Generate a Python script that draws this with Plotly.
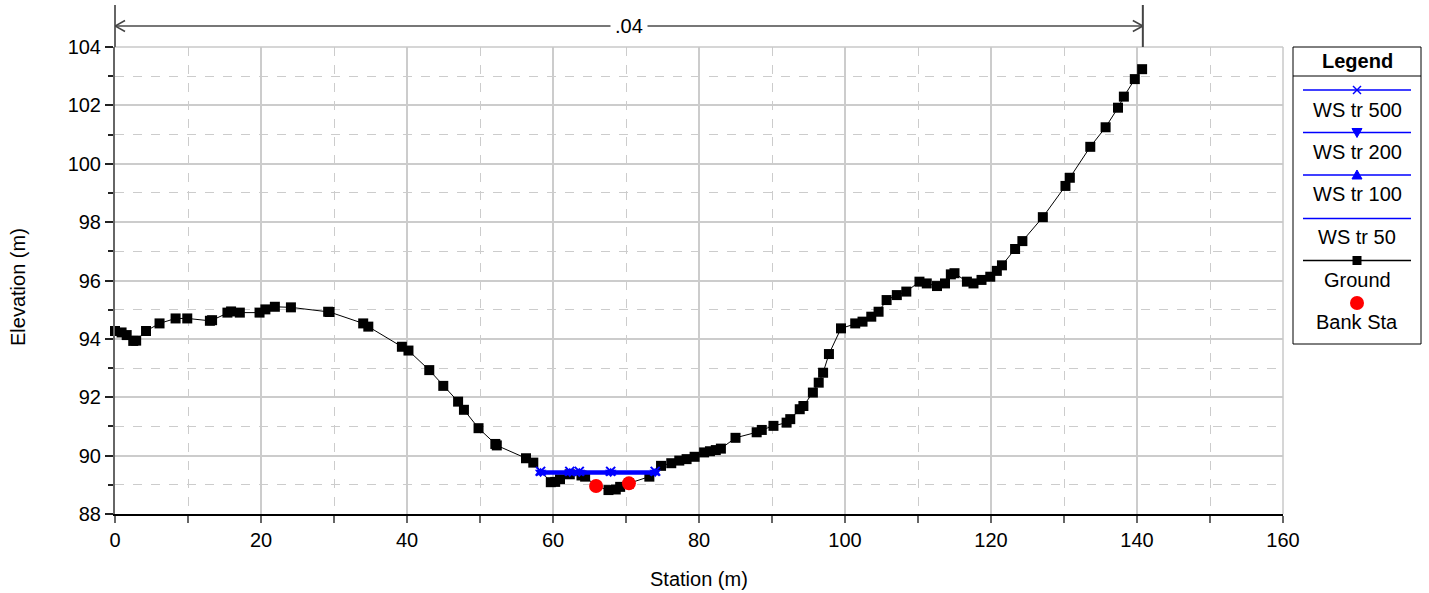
import plotly.graph_objects as go

# ---------------- data ----------------
ground_sta = [0.0, 0.9, 1.6, 2.5, 2.9, 4.25, 6.1, 8.3, 9.9, 13.0, 13.3, 15.4, 15.9, 17.1,
              19.8, 20.6, 21.9, 24.1, 29.2, 29.4, 34.0, 34.7, 39.3, 40.2, 43.05, 44.97,
              47.0, 47.8, 49.8, 52.1, 52.3, 56.3, 57.3, 59.7, 60.3, 60.96, 62.3, 63.9,
              64.4, 65.9, 67.6, 68.6, 69.2, 70.4, 73.2, 74.8, 76.2, 77.3, 78.3, 79.4,
              80.7, 81.5, 82.3, 83.0, 85.0, 87.9, 88.6, 90.2, 92.0, 92.5, 93.8, 94.3,
              95.6, 96.4, 97.0, 97.8, 99.45, 101.4, 102.4, 103.6, 104.6, 105.7, 107.1,
              108.4, 110.2, 111.2, 112.6, 113.7, 114.5, 115.0, 116.7, 117.6, 118.7,
              119.9, 120.8, 121.5, 123.3, 124.3, 127.1, 130.2, 130.8, 133.6, 135.7,
              137.4, 138.2, 139.7, 140.7]
ground_elev = [94.27, 94.22, 94.13, 93.93, 93.94, 94.27, 94.53, 94.70, 94.70, 94.62, 94.64,
               94.90, 94.94, 94.90, 94.90, 95.01, 95.10, 95.08, 94.93, 94.92, 94.53, 94.42,
               93.73, 93.60, 92.93, 92.39, 91.85, 91.57, 90.94, 90.40, 90.35, 89.91, 89.76,
               89.09, 89.10, 89.19, 89.36, 89.32, 89.28, 88.96, 88.82, 88.84, 88.93, 89.05,
               89.28, 89.65, 89.74, 89.83, 89.88, 89.96, 90.11, 90.15, 90.19, 90.24, 90.61,
               90.80, 90.88, 91.02, 91.13, 91.25, 91.59, 91.70, 92.16, 92.50, 92.84, 93.48,
               94.36, 94.53, 94.59, 94.76, 94.93, 95.33, 95.50, 95.62, 95.96, 95.90, 95.81,
               95.90, 96.21, 96.25, 95.96, 95.90, 96.02, 96.13, 96.33, 96.52, 97.08, 97.35,
               98.17, 99.24, 99.52, 100.58, 101.25, 101.92, 102.30, 102.90, 103.24]

ws_sta = [58.3, 62.3, 63.6, 67.9, 74.0]
ws500 = [89.46] * 5
ws200 = [89.43] * 5
ws100 = [89.41] * 5
ws50 = [89.38] * 5

bank_sta = [65.9, 70.4]
bank_elev = [88.96, 89.05]

n_label = ".04"
n_start, n_end = 0.0, 140.8

legend_labels = ["WS tr 500", "WS tr 200", "WS tr 100", "WS tr 50", "Ground", "Bank Sta"]
x_title = "Station (m)"
y_title = "Elevation (m)"

# ---------------- layout helpers ----------------
W, H = 1429, 593
L, R, T, B = 115, 1283, 47, 514
FONT = "Liberation Sans, Arial, sans-serif"
BLUE = "#0000FF"


def px(xp):
    return (xp - L) / (R - L)


def py(yp):
    return (B - yp) / (B - T)


def label(x, y, text, xref="paper", **kw):
    d = dict(x=x, y=y, xref=xref, yref="paper", text=text, showarrow=False,
             xanchor="center", yanchor="middle",
             font=dict(family=FONT, size=20, color="black"))
    d.update(kw)
    return d


fig = go.Figure()

fig.add_trace(go.Scatter(x=ground_sta, y=ground_elev, mode="lines+markers",
                         line=dict(color="black", width=1),
                         marker=dict(symbol="square", size=10, color="black"),
                         name="Ground", showlegend=False, cliponaxis=False))
fig.add_trace(go.Scatter(x=ws_sta, y=ws50, mode="lines", line=dict(color=BLUE, width=2.2),
                         name="WS tr 50", showlegend=False))
fig.add_trace(go.Scatter(x=ws_sta, y=ws100, mode="lines+markers", line=dict(color=BLUE, width=2.2),
                         marker=dict(symbol="triangle-up", size=10, color=BLUE),
                         name="WS tr 100", showlegend=False))
fig.add_trace(go.Scatter(x=ws_sta, y=ws200, mode="lines+markers", line=dict(color=BLUE, width=2.2),
                         marker=dict(symbol="triangle-down", size=10, color=BLUE),
                         name="WS tr 200", showlegend=False))
fig.add_trace(go.Scatter(x=ws_sta, y=ws500, mode="lines+markers", line=dict(color=BLUE, width=2.2),
                         marker=dict(symbol="x-thin", size=9, color=BLUE,
                                     line=dict(color=BLUE, width=2)),
                         name="WS tr 500", showlegend=False))
fig.add_trace(go.Scatter(x=bank_sta, y=bank_elev, mode="markers",
                         marker=dict(symbol="circle", size=14, color="#FF0000"),
                         name="Bank Sta", showlegend=False))

shapes = []
annotations = []

# plot border (top / right)
shapes.append(dict(type="line", xref="paper", yref="paper", x0=0, x1=1, y0=1, y1=1,
                   line=dict(color="#c8c8c8", width=1.5)))
shapes.append(dict(type="line", xref="paper", yref="paper", x0=1, x1=1, y0=0, y1=1,
                   line=dict(color="#c8c8c8", width=1.5)))
# left axis extension above plot
shapes.append(dict(type="line", xref="paper", yref="paper", x0=0, x1=0, y0=1, y1=py(5),
                   line=dict(color="#666666", width=2)))

# Manning's n dimension line
ya = py(26)
shapes.append(dict(type="line", xref="x", yref="paper", x0=n_end, x1=n_end, y0=1, y1=py(5),
                   line=dict(color="#444444", width=2)))
shapes.append(dict(type="line", xref="x", yref="paper", x0=n_start, x1=n_end, y0=ya, y1=ya,
                   line=dict(color="#777777", width=2)))
dx = 10 / 7.3
dy = 5.5 / (B - T)
for xs, sgn in ((n_start, 1), (n_end, -1)):
    for s in (1, -1):
        shapes.append(dict(type="line", xref="x", yref="paper", x0=xs, y0=ya,
                           x1=xs + sgn * dx, y1=ya + s * dy,
                           line=dict(color="#444444", width=1.5)))
annotations.append(label((n_start + n_end) / 2, ya, n_label, xref="x",
                         bgcolor="white", borderpad=4))

# axis titles
annotations.append(label(px(699), py(579), x_title))
annotations.append(label(px(18), py(287), y_title, textangle=-90))

# ---------------- legend (drawn manually) ----------------
lx0, lx1, ly0, ly1 = 1293, 1421, 47, 344
cx = (lx0 + lx1) / 2
shapes.append(dict(type="rect", xref="paper", yref="paper", x0=px(lx0), x1=px(lx1),
                   y0=py(ly1), y1=py(ly0), line=dict(color="black", width=1),
                   fillcolor="white", layer="below"))
shapes.append(dict(type="line", xref="paper", yref="paper", x0=px(lx0), x1=px(lx1),
                   y0=py(76), y1=py(76), line=dict(color="black", width=1)))
annotations.append(label(px(cx), py(61), "<b>Legend</b>"))

line_y = [90, 132.5, 175, 218.5, 260.5]
text_y = [109.5, 151.5, 193.5, 237, 279.5, 321.5]
line_col = [BLUE, BLUE, BLUE, BLUE, "black"]
for yy, c in zip(line_y, line_col):
    shapes.append(dict(type="line", xref="paper", yref="paper", x0=px(1303), x1=px(1411),
                       y0=py(yy), y1=py(yy), line=dict(color=c, width=1.5)))
for yy, t in zip(text_y, legend_labels):
    annotations.append(label(px(cx), py(yy), t))

# legend symbols
s = 4
for sg in (1, -1):
    shapes.append(dict(type="line", xref="paper", yref="paper", x0=px(cx - s), x1=px(cx + s),
                       y0=py(90 - sg * s), y1=py(90 + sg * s), line=dict(color=BLUE, width=1.5)))


def tri(x0, y0, x1, y1, x2, y2):
    return "M %f %f L %f %f L %f %f Z" % (px(x0), py(y0), px(x1), py(y1), px(x2), py(y2))


shapes.append(dict(type="path", xref="paper", yref="paper",
                   path=tri(cx - 5, 128.5, cx + 5, 128.5, cx, 137.5),
                   fillcolor=BLUE, line=dict(color=BLUE, width=1)))
shapes.append(dict(type="path", xref="paper", yref="paper",
                   path=tri(cx - 5, 179, cx + 5, 179, cx, 170),
                   fillcolor=BLUE, line=dict(color=BLUE, width=1)))
shapes.append(dict(type="rect", xref="paper", yref="paper", x0=px(cx - 4.5), x1=px(cx + 4.5),
                   y0=py(260.5 + 4.5), y1=py(260.5 - 4.5), fillcolor="black",
                   line=dict(color="black", width=0)))
shapes.append(dict(type="circle", xref="paper", yref="paper", x0=px(cx - 7), x1=px(cx + 7),
                   y0=py(303 + 7), y1=py(303 - 7), fillcolor="#FF0000",
                   line=dict(color="#FF0000", width=0)))

fig.update_layout(
    width=W, height=H,
    margin=dict(l=L, r=W - R, t=T, b=H - B, pad=0, autoexpand=False),
    paper_bgcolor="white", plot_bgcolor="white",
    font=dict(family=FONT, size=20, color="black"),
    shapes=shapes, annotations=annotations,
    showlegend=False,
    xaxis=dict(range=[0, 160], tick0=0, dtick=20, showgrid=True, gridcolor="#cccccc", gridwidth=1.5,
               ticks="outside", ticklen=7, tickwidth=2, tickcolor="#666666",
               showline=True, linecolor="black", linewidth=1.5, zeroline=False,
               automargin=False,
               tickfont=dict(family=FONT, size=20, color="black"),
               minor=dict(dtick=10, showgrid=True, griddash="dash", gridcolor="#cccccc",
                          gridwidth=1, ticks="outside", ticklen=7, tickwidth=2,
                          tickcolor="#666666")),
    yaxis=dict(range=[88, 104], tick0=88, dtick=2, showgrid=True, gridcolor="#cccccc", gridwidth=1.5,
               ticks="outside", ticklen=8, tickwidth=1.5, tickcolor="#222222",
               showline=True, linecolor="#666666", linewidth=2, zeroline=False,
               automargin=False,
               tickfont=dict(family=FONT, size=20, color="black"),
               minor=dict(dtick=1, showgrid=True, griddash="dash", gridcolor="#cccccc",
                          gridwidth=1, ticks="outside", ticklen=5, tickwidth=1.5,
                          tickcolor="#222222")),
)

fig.write_html("out.html", config={"displayModeBar": False},
               post_script="document.body.style.margin='0px';"
                           "document.body.style.overflow='hidden';")
